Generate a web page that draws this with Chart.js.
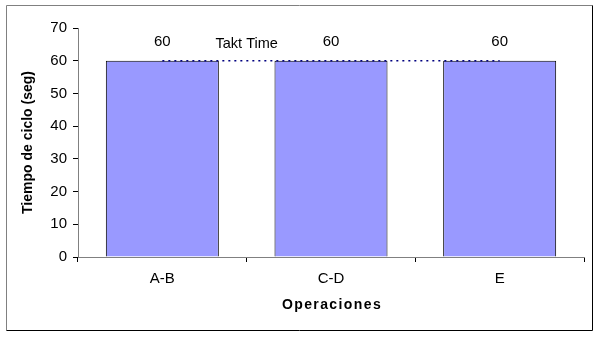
<!DOCTYPE html>
<html>
<head>
<meta charset="utf-8">
<script src="https://cdn.jsdelivr.net/npm/chart.js@4"></script>
<style>
  html, body { margin: 0; padding: 0; background: #fff; }
  #wrap { width: 598px; height: 344px; position: relative; }
</style>
</head>
<body>
<div id="wrap"><canvas id="myChart" width="598" height="344"></canvas></div>
<script>
const operaciones = ['A-B', 'C-D', 'E'];
const tiempos = [60, 60, 60];
const taktTime = [60, 60, 60];
const taktLabel = 'Takt Time';
const xTitle = 'Operaciones';

const FONT = "'Liberation Sans', Arial, sans-serif";

// valores encima de barras, texto Takt Time, titulo X y marco
const labelsPlugin = {
    id: 'labels',
    beforeDraw(chart) {
        const ctx = chart.ctx;
        ctx.save();
        ctx.fillStyle = '#fff';
        ctx.fillRect(0, 0, chart.width, chart.height);
        ctx.lineWidth = 1;
        ctx.strokeStyle = '#808080';
        ctx.beginPath();
        ctx.moveTo(6.5, 330.5);
        ctx.lineTo(6.5, 5.5);
        ctx.lineTo(592.5, 5.5);
        ctx.stroke();
        ctx.strokeStyle = '#000';
        ctx.beginPath();
        ctx.moveTo(592.5, 5.5);
        ctx.lineTo(592.5, 330.5);
        ctx.lineTo(6.5, 330.5);
        ctx.stroke();
        ctx.restore();
    },
    afterDatasetsDraw(chart) {
        const ctx = chart.ctx;
        const xs = chart.scales.x;
        const ys = chart.scales.y;
        ctx.save();
        ctx.fillStyle = '#000';
        ctx.font = '15px ' + FONT;
        ctx.textAlign = 'center';
        ctx.textBaseline = 'middle';
        tiempos.forEach((v, i) => {
            ctx.fillText(String(v), xs.getPixelForValue(i), ys.getPixelForValue(v) - 19);
        });
        ctx.font = '14.5px ' + FONT;
        const tx = (xs.getPixelForValue(0) + xs.getPixelForValue(1)) / 2;
        ctx.fillText(taktLabel, tx, ys.getPixelForValue(taktTime[0]) - 17);

        ctx.font = 'bold 14px ' + FONT;
        ctx.letterSpacing = '1.4px';
        ctx.fillText(xTitle, (xs.left + xs.right) / 2 + 1, 305);
        ctx.restore();
    }
};

const ctx = document.getElementById('myChart').getContext('2d');

new Chart(ctx, {
    type: 'bar',
    data: {
        labels: operaciones,
        datasets: [
            {
                type: 'line',
                label: 'Takt Time',
                data: taktTime,
                borderColor: '#000080',
                borderWidth: 1.5,
                borderDash: [2, 4],
                pointRadius: 0,
                fill: false,
                order: 0
            },
            {
                label: 'Tiempo de ciclo',
                data: tiempos,
                backgroundColor: '#9999ff',
                borderColor: '#000',
                borderWidth: 1,
                barPercentage: 0.67,
                categoryPercentage: 1,
                order: 1
            }
        ]
    },
    options: {
        responsive: false,
        animation: false,
        layout: { padding: { top: 28, right: 14, bottom: 0, left: 6 } },
        plugins: {
            legend: { display: false },
            tooltip: { enabled: false }
        },
        scales: {
            x: {
                offset: true,
                grid: {
                    offset: true,
                    drawOnChartArea: false,
                    color: '#000',
                    tickLength: 5
                },
                border: { color: '#808080', width: 1 },
                ticks: { color: '#000', font: { family: FONT, size: 15 }, padding: 8 },
                afterFit(scale) { scale.height = 87; }
            },
            y: {
                min: 0,
                max: 70,
                grid: {
                    drawOnChartArea: false,
                    color: '#000',
                    tickLength: 5
                },
                border: { color: '#808080', width: 1 },
                ticks: { stepSize: 10, color: '#000', font: { family: FONT, size: 15 }, padding: 6 },
                title: {
                    display: true,
                    text: 'Tiempo de ciclo (seg)',
                    color: '#000',
                    font: { family: FONT, size: 14, weight: 'bold' },
                    padding: { top: 14, bottom: 4 }
                },
                afterFit(scale) { scale.width = 72; }
            }
        }
    },
    plugins: [labelsPlugin]
});
</script>
</body>
</html>
